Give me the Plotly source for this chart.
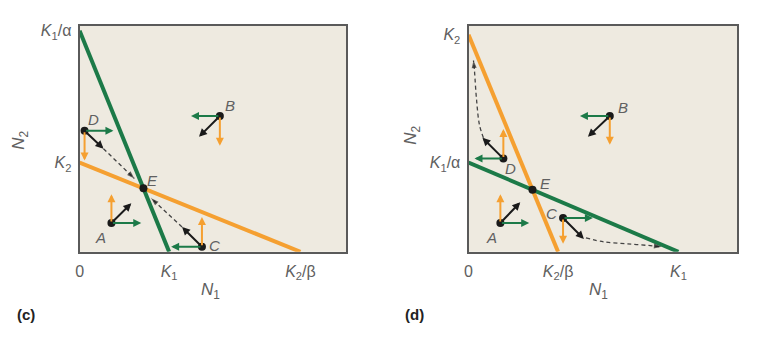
import plotly.graph_objects as go

W, H = 758, 340

# ---------------- data (arbitrary N units) ----------------
# Panel (c)
c_range_x, c_range_y = 268, 228
c_K1, c_K1_alpha = 90, 223          # N1 isocline intercepts (green)
c_K2, c_K2_beta = 90, 222           # N2 isocline intercepts (orange)
c_xtick_vals = [0, c_K1, c_K2_beta]
c_xtick_text = ["0", "<i>K</i><sub>1</sub>", "<i>K</i><sub>2</sub>/β"]
c_ytick_vals = [c_K2, c_K1_alpha]
c_ytick_text = ["<i>K</i><sub>2</sub>", "<i>K</i><sub>1</sub>/α"]
c_names = ["A", "B", "C", "D"]
c_px = [32, 141, 123, 5]
c_py = [29, 137, 5, 122]
c_dn1 = [30, -29, -31, 29]          # green (N1 change)
c_dn2 = [29, -30, 30, -30]          # orange (N2 change)
c_bx = [20, -21, -20, 19]           # black (joint change)
c_by = [20, -21, 20, -18]
c_traj_D_x = [24, 55]
c_traj_D_y = [104, 74]
c_traj_C_x = [103, 72]
c_traj_C_y = [25, 54]

# Panel (d)
d_range_x, d_range_y = 270, 228
d_K1, d_K1_alpha = 211, 90
d_K2, d_K2_beta = 219, 90
d_xtick_vals = [0, d_K2_beta, d_K1]
d_xtick_text = ["0", "<i>K</i><sub>2</sub>/β", "<i>K</i><sub>1</sub>"]
d_ytick_vals = [d_K1_alpha, d_K2]
d_ytick_text = ["<i>K</i><sub>1</sub>/α", "<i>K</i><sub>2</sub>"]
d_names = ["A", "B", "C", "D"]
d_px = [32, 142, 95, 35]
d_py = [29, 137, 34, 94]
d_dn1 = [29, -30, 30, -29]
d_dn2 = [29, -29, -26, 30]
d_bx = [20, -22, 21, -21]
d_by = [21, -21, -21, 21]
d_traj_D_x = [15, 11, 8, 6, 5]
d_traj_D_y = [115, 128, 154, 182, 193]
d_traj_C_x = [118, 136, 160, 185, 194]
d_traj_C_y = [14, 10, 8, 6, 5]

# ---------------- style ----------------
GREEN = "#1C7A48"
ORANGE = "#F5A031"
BLACK = "#1a1a1a"
DASH = "#444444"
BG = "#EEEAE0"
FRAME = "#5a5a5a"
LABEL = "#606060"
FONT = "Liberation Sans, Arial, sans-serif"

fig = go.Figure()


def px2paper(x, y):
    return x / W, 1 - y / H


def intersect(K1, K1a, K2, K2b):
    # green: y = K1a*(1 - x/K1); orange: y = K2*(1 - x/K2b)
    a1, a2 = K1a / K1, K2 / K2b
    x = (K1a - K2) / (a1 - a2)
    return x, K1a - a1 * x


panels = [
    dict(xa="x", ya="y", K1=c_K1, K1a=c_K1_alpha, K2=c_K2, K2b=c_K2_beta,
         names=c_names, px=c_px, py=c_py, dn1=c_dn1, dn2=c_dn2, bx=c_bx, by=c_by,
         trajs=[(c_traj_D_x, c_traj_D_y), (c_traj_C_x, c_traj_C_y)],
         shifts={"A": (-11, -14), "B": (10, 10), "C": (13, 1), "D": (9, 11), "E": (9, 8)}),
    dict(xa="x2", ya="y2", K1=d_K1, K1a=d_K1_alpha, K2=d_K2, K2b=d_K2_beta,
         names=d_names, px=d_px, py=d_py, dn1=d_dn1, dn2=d_dn2, bx=d_bx, by=d_by,
         trajs=[(d_traj_D_x, d_traj_D_y), (d_traj_C_x, d_traj_C_y)],
         shifts={"A": (-9, -14), "B": (13, 8), "C": (-12, 5), "D": (7, -10), "E": (13, 6)}),
]

for p in panels:
    xa, ya = p["xa"], p["ya"]
    # isoclines
    fig.add_trace(go.Scatter(x=[0, p["K2b"]], y=[p["K2"], 0], mode="lines",
                             line=dict(color=ORANGE, width=4), xaxis=xa, yaxis=ya,
                             hoverinfo="skip", showlegend=False))
    fig.add_trace(go.Scatter(x=[0, p["K1"]], y=[p["K1a"], 0], mode="lines",
                             line=dict(color=GREEN, width=4), xaxis=xa, yaxis=ya,
                             hoverinfo="skip", showlegend=False))
    # trajectories (dashed) with an arrowhead marker at the end
    for tx, ty in p["trajs"]:
        n = len(tx)
        fig.add_trace(go.Scatter(x=tx, y=ty, mode="lines+markers",
                                 line=dict(color=DASH, width=1.3, dash="4px,3px", shape="spline"),
                                 marker=dict(symbol="arrow", angleref="previous",
                                             size=[0] * (n - 1) + [8], color=BLACK,
                                             line=dict(width=0)),
                                 xaxis=xa, yaxis=ya, hoverinfo="skip", showlegend=False))
    # arrows at points
    for i, nm in enumerate(p["names"]):
        x0, y0 = p["px"][i], p["py"][i]
        for (dx, dy, col) in [(p["dn1"][i], 0, GREEN), (0, p["dn2"][i], ORANGE),
                              (p["bx"][i], p["by"][i], BLACK)]:
            fig.add_annotation(x=x0 + dx, y=y0 + dy, ax=x0, ay=y0,
                               xref=xa, yref=ya, axref=xa, ayref=ya, text="",
                               showarrow=True, arrowhead=2, arrowsize=0.8, arrowwidth=2,
                               arrowcolor=col, standoff=0)
    ex, ey = intersect(p["K1"], p["K1a"], p["K2"], p["K2b"])
    allx = p["px"] + [ex]
    ally = p["py"] + [ey]
    alln = p["names"] + ["E"]
    fig.add_trace(go.Scatter(x=allx, y=ally, mode="markers",
                             marker=dict(color=BLACK, size=8), xaxis=xa, yaxis=ya,
                             hoverinfo="skip", showlegend=False))
    for x0, y0, nm in zip(allx, ally, alln):
        sx, sy = p["shifts"][nm]
        fig.add_annotation(x=x0, y=y0, xref=xa, yref=ya, text=f"<i>{nm}</i>",
                           showarrow=False, xshift=sx, yshift=sy,
                           font=dict(family=FONT, size=15, color=LABEL))

axis_common = dict(showgrid=False, zeroline=False, showline=True, mirror=True,
                   linecolor=FRAME, linewidth=2, ticks="", fixedrange=True,
                   tickfont=dict(family=FONT, size=16, color=LABEL))

fig.update_layout(
    width=W, height=H, margin=dict(l=0, r=0, t=0, b=0),
    paper_bgcolor="white", plot_bgcolor=BG, showlegend=False,
    xaxis=dict(domain=[76 / W, 344 / W], range=[0, c_range_x], anchor="y",
               tickvals=c_xtick_vals, ticktext=c_xtick_text, ticklabelstandoff=4, **axis_common),
    yaxis=dict(domain=[1 - 251 / H, 1 - 23 / H], range=[0, c_range_y], anchor="x",
               tickvals=c_ytick_vals, ticktext=c_ytick_text, ticklabelstandoff=3, **axis_common),
    xaxis2=dict(domain=[467 / W, 737 / W], range=[0, d_range_x], anchor="y2",
                tickvals=d_xtick_vals, ticktext=d_xtick_text, ticklabelstandoff=4, **axis_common),
    yaxis2=dict(domain=[1 - 251 / H, 1 - 23 / H], range=[0, d_range_y], anchor="x2",
                tickvals=d_ytick_vals, ticktext=d_ytick_text, ticklabelstandoff=3, **axis_common),
)

# axis titles and panel letters
texts = [
    (208, 291, "<i>N</i><sub>1</sub>", 0, False),
    (16, 138, "<i>N</i><sub>2</sub>", -90, False),
    (598, 291, "<i>N</i><sub>1</sub>", 0, False),
    (410, 133, "<i>N</i><sub>2</sub>", -90, False),
    (22, 314, "<b>(c)</b>", 0, True),
    (413, 314, "<b>(d)</b>", 0, True),
]
for x, y, t, ang, bold in texts:
    xp, yp = px2paper(x, y)
    fig.add_annotation(x=xp, y=yp, xref="paper", yref="paper", text=t, showarrow=False,
                       textangle=ang, xanchor="center", yanchor="middle",
                       font=dict(family=FONT, size=17 if not bold else 15,
                                 color="#222" if bold else LABEL))

fig.write_html("out.html")
